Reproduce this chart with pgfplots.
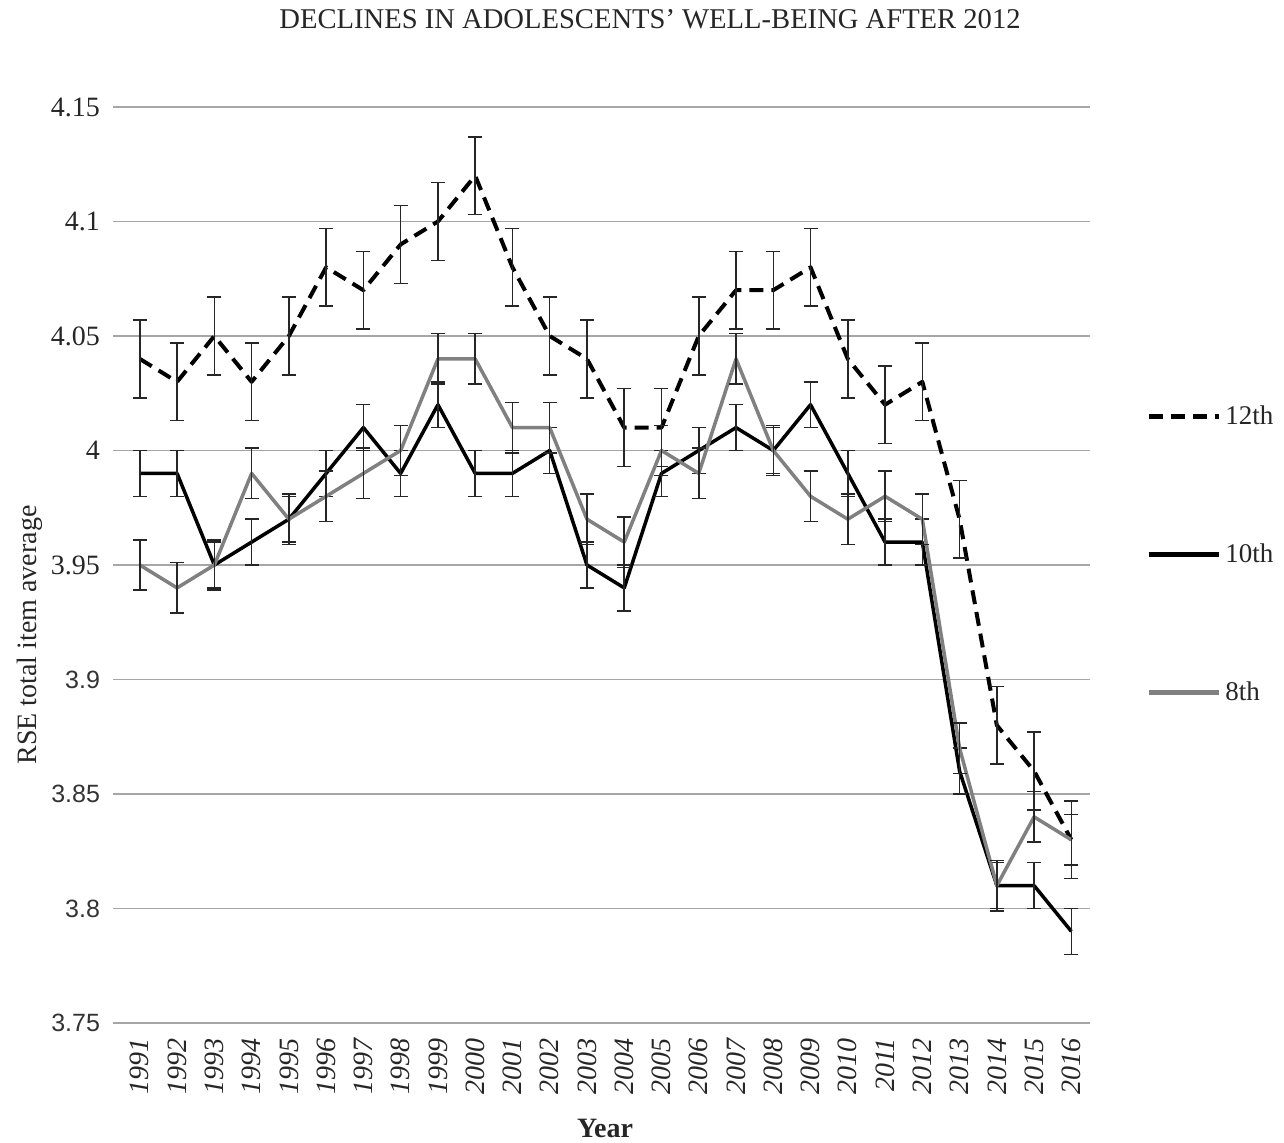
\documentclass[border=0pt]{standalone}
\usepackage{pgfplots}
\usepackage{pgfplotstable}
\usepackage{fontspec}
\setmainfont{Liberation Serif}
\setsansfont{Liberation Sans}
\pgfplotsset{compat=1.18}

% RSE total item average by grade, with error half-widths
\pgfplotstableread{
year y12   e12   y10  e10  y8   e8
1991 4.04  0.017 3.99 0.01 3.95 0.011
1992 4.03  0.017 3.99 0.01 3.94 0.011
1993 4.05  0.017 3.95 0.01 3.95 0.011
1994 4.03  0.017 3.96 0.01 3.99 0.011
1995 4.05  0.017 3.97 0.01 3.97 0.011
1996 4.08  0.017 3.99 0.01 3.98 0.011
1997 4.07  0.017 4.01 0.01 3.99 0.011
1998 4.09  0.017 3.99 0.01 4.00 0.011
1999 4.10  0.017 4.02 0.01 4.04 0.011
2000 4.12  0.017 3.99 0.01 4.04 0.011
2001 4.08  0.017 3.99 0.01 4.01 0.011
2002 4.05  0.017 4.00 0.01 4.01 0.011
2003 4.04  0.017 3.95 0.01 3.97 0.011
2004 4.01  0.017 3.94 0.01 3.96 0.011
2005 4.01  0.017 3.99 0.01 4.00 0.011
2006 4.05  0.017 4.00 0.01 3.99 0.011
2007 4.07  0.017 4.01 0.01 4.04 0.011
2008 4.07  0.017 4.00 0.01 4.00 0.011
2009 4.08  0.017 4.02 0.01 3.98 0.011
2010 4.04  0.017 3.99 0.01 3.97 0.011
2011 4.02  0.017 3.96 0.01 3.98 0.011
2012 4.03  0.017 3.96 0.01 3.97 0.011
2013 3.97  0.017 3.86 0.01 3.87 0.011
2014 3.88  0.017 3.81 0.01 3.81 0.011
2015 3.86  0.017 3.81 0.01 3.84 0.011
2016 3.83  0.017 3.79 0.01 3.83 0.011
}\rsedata

\begin{document}
\begin{tikzpicture}
\path[use as bounding box] (-56.5pt,-59.5pt) rectangle (585.5pt,511.5pt);
\begin{axis}[
  at={(0,0)}, anchor=south west,
  scale only axis,
  width=488.5pt, height=458pt,
  xmin=1990.28, xmax=2016.5,
  ymin=3.75, ymax=4.15,
  axis x line*=bottom, axis y line*=left,
  y axis line style={draw=none},
  x axis line style={draw=black!45, line width=1pt},
  ymajorgrids=true,
  major grid style={draw=black!35, line width=0.75pt},
  % upper values in a serif face, lower ones in a sans face
  ytick={3.95,4,4.05,4.1,4.15},
  yticklabels={3.95,4,4.05,4.1,4.15},
  yticklabel style={font=\rmfamily\fontsize{14}{16}\selectfont, text=black!85, xshift=-3pt},
  extra y ticks={3.75,3.8,3.85,3.9},
  extra y tick labels={3.75,3.8,3.85,3.9},
  extra y tick style={grid=major,
    yticklabel style={font=\sffamily\fontsize{12.5}{14}\selectfont, text=black!80}},
  ytick style={draw=none},
  xtick={1991,1992,1993,1994,1995,1996,1997,1998,1999,2000,2001,2002,2003,
         2004,2005,2006,2007,2008,2009,2010,2011,2012,2013,2014,2015,2016},
  xticklabels={1991,1992,1993,1994,1995,1996,1997,1998,1999,2000,2001,2002,2003,
         2004,2005,2006,2007,2008,2009,2010,2011,2012,2013,2014,2015,2016},
  xtick style={draw=none},
  xticklabel style={rotate=90, anchor=east, font=\itshape\fontsize{14}{16}\selectfont, text=black!85},
  xticklabel shift=4pt,
  extra x ticks={1995.5,2000.5,2005.5,2010.5,2015.5},
  extra x tick labels={},
  extra x tick style={grid=none, tick align=outside, major tick length=5pt,
    tick style={draw=black!45, line width=0.75pt}},
  title={DECLINES IN ADOLESCENTS' WELL-BEING AFTER 2012},
  title style={at={(axis description cs:0.5497,1)}, anchor=center, yshift=38pt,
    font=\fontsize{14.3}{16}\selectfont, text=black!85},
  xlabel={Year},
  xlabel style={at={(axis description cs:0.5036,-0.1146)}, anchor=center,
    font=\bfseries\fontsize{14}{16}\selectfont, text=black!85},
  ylabel={RSE total item average},
  ylabel style={at={(axis description cs:-0.085,0.4236)}, anchor=center,
    font=\fontsize{14}{16}\selectfont, text=black!85},
  legend style={at={(axis description cs:1.0512,0.6834)}, anchor=north west,
    draw=none, fill=none, row sep=54.3pt,
    font=\fontsize{13.5}{15}\selectfont, text=black!85},
  legend cell align=left,
  legend image code/.code={\draw[#1, line width=2.5pt] (0pt,0pt) -- (35pt,0pt);},
  clip=false,
]
\addplot[black, line width=2pt, dash pattern=on 7pt off 4pt, line join=round,
  error bars/.cd, y dir=both, y explicit,
  error bar style={solid, line width=0.75pt, black!85},
  error mark options={solid, line width=0.75pt, black!85, mark size=3.5pt, rotate=90}]
  table[x=year, y=y12, y error=e12] {\rsedata};
\addlegendentry{12th}
\addplot[black, line width=1.75pt, line join=round,
  error bars/.cd, y dir=both, y explicit,
  error bar style={solid, line width=0.75pt, black!85},
  error mark options={solid, line width=0.75pt, black!85, mark size=3.5pt, rotate=90}]
  table[x=year, y=y10, y error=e10] {\rsedata};
\addlegendentry{10th}
\addplot[black!50, line width=1.75pt, line join=round,
  error bars/.cd, y dir=both, y explicit,
  error bar style={solid, line width=0.75pt, black!85},
  error mark options={solid, line width=0.75pt, black!85, mark size=3.5pt, rotate=90}]
  table[x=year, y=y8, y error=e8] {\rsedata};
\addlegendentry{8th}
\end{axis}
\end{tikzpicture}
\end{document}
